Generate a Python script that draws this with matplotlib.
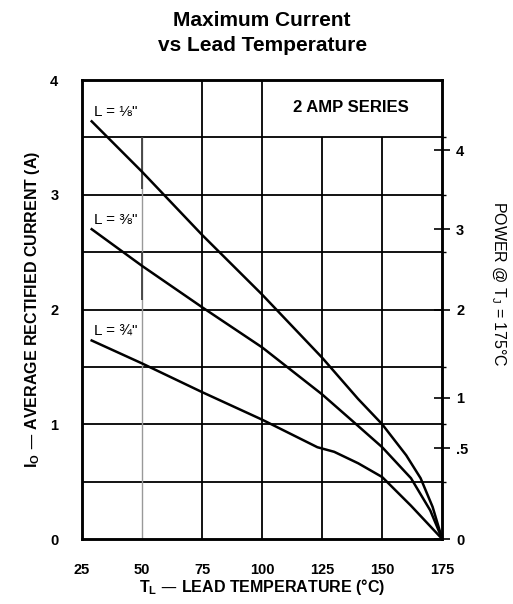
import numpy as np
import matplotlib.pyplot as plt

plt.rcParams['font.family'] = ['Liberation Sans', 'DejaVu Sans']

# lead temperature (deg C) / current (A)
t_18 = [29, 50, 75, 100, 125, 140, 150, 160, 166, 171, 175]
i_18 = [3.64, 3.20, 2.65, 2.13, 1.58, 1.22, 1.00, 0.73, 0.53, 0.28, 0.0]
t_38 = [29, 50, 75, 100, 125, 137, 150, 162, 170, 175]
i_38 = [2.70, 2.38, 2.02, 1.67, 1.26, 1.04, 0.80, 0.53, 0.25, 0.0]
t_34 = [29, 50, 75, 100, 123, 130, 140, 150, 162, 175]
i_34 = [1.73, 1.53, 1.28, 1.04, 0.80, 0.76, 0.66, 0.54, 0.29, 0.0]

x_ticks = [25, 50, 75, 100, 125, 150, 175]
y_ticks = [0, 1, 2, 3, 4]
h_grid = [0.5, 1.0, 1.5, 2.0, 2.5, 3.0, 3.5]
power_pos = [3.39, 2.70, 2.00, 1.23, 0.79, 0.0]
power_labels = ['4', '3', '2', '1', '.5', '0']

fig = plt.figure(figsize=(5.13, 6.04), dpi=100)
ax = fig.add_axes([0.160, 0.1076, 0.702, 0.7599])
ax.set_xlim(25, 175)
ax.set_ylim(0, 4)

# grid
ax.hlines(h_grid, 25, 175, colors='k', lw=1.3)
ax.vlines([75, 100], 0, 4, colors='k', lw=1.3)
ax.vlines([125, 150], 0, 3.5, colors='k', lw=1.3)
ax.vlines([50], 0, 3.5, colors='0.6', lw=1.0)
ax.vlines([50, 50], [2.08, 3.05], [2.5, 3.5], colors='0.25', lw=1.3)

# curves
ax.plot(t_18, i_18, color='k', lw=1.8)
ax.plot(t_38, i_38, color='k', lw=1.8)
ax.plot(t_34, i_34, color='k', lw=1.8)

ax.text(30, 3.66, 'L = \u215b"', fontsize=11, va='bottom')
ax.text(30, 2.72, 'L = \u215c"', fontsize=11, va='bottom')
ax.text(30, 1.75, 'L = \u00be"', fontsize=11, va='bottom')
ax.text(137, 3.76, '2 AMP SERIES', fontsize=12, fontweight='bold',
        ha='center', va='center')

for s in ax.spines.values():
    s.set_linewidth(1.8)

ax.set_xticks(x_ticks)
ax.set_yticks(y_ticks)
ax.tick_params(length=0, labelsize=10.5, pad=17)
for lab in ax.get_xticklabels() + ax.get_yticklabels():
    lab.set_fontweight('bold')

ax.set_xlabel(r'T$_\mathregular{L}$ — LEAD TEMPERATURE (°C)', fontsize=11.5,
              fontweight='bold', labelpad=0)
ax.set_ylabel(r'I$_\mathregular{O}$ — AVERAGE RECTIFIED CURRENT (A)', fontsize=11.5,
              fontweight='bold', labelpad=6)

ax2 = ax.twinx()
ax2.set_ylim(0, 4)
ax2.set_yticks(power_pos, power_labels)
ax2.tick_params(direction='inout', length=12, width=1.2, labelsize=10.5, pad=4)
for lab in ax2.get_yticklabels():
    lab.set_fontweight('bold')
ax2.set_yticks(h_grid, minor=True)
ax2.tick_params(which='minor', direction='out', length=3, width=1.0)
ax2.set_ylabel(r'POWER @ T$_\mathregular{J}$ = 175°C', fontsize=11.5,
               rotation=-90, va='center')
ax2.yaxis.set_label_coords(1.155, 0.556)
for s in ax2.spines.values():
    s.set_linewidth(1.8)

fig.suptitle('Maximum Current\nvs Lead Temperature', fontsize=15,
             fontweight='bold', x=0.511, y=0.982, linespacing=1.4)

fig.savefig('out.png', dpi=100)
